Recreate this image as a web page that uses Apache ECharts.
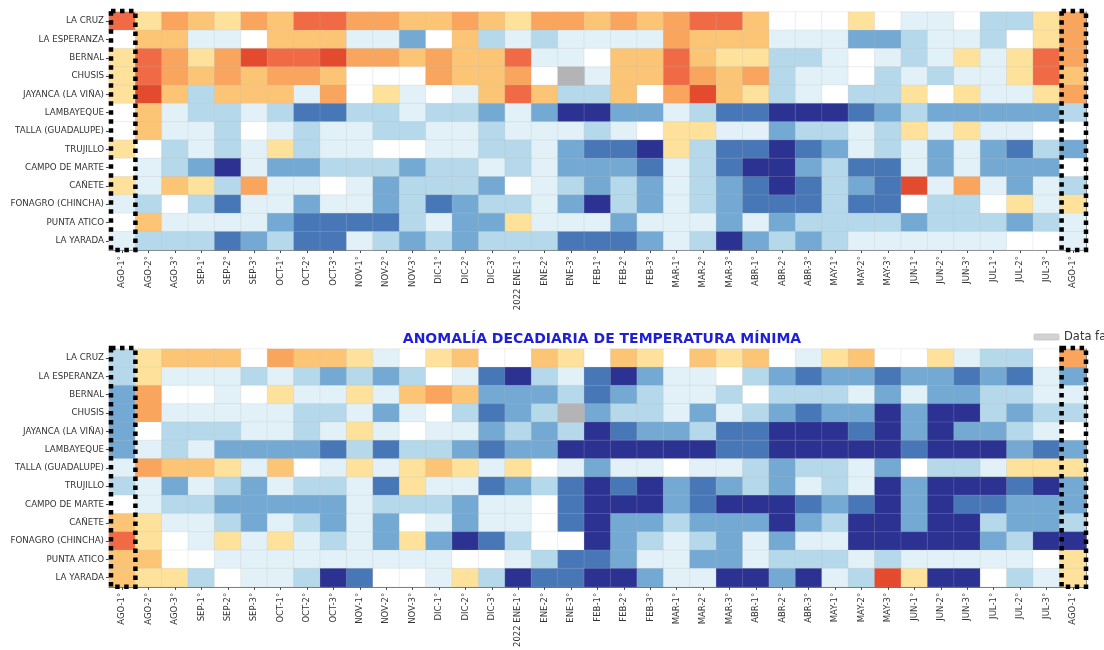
<!DOCTYPE html>
<html>
<head>
<meta charset="utf-8">
<script src="https://cdn.jsdelivr.net/npm/echarts@6/dist/echarts.min.js"></script>
<style>
  html, body { margin: 0; padding: 0; background: #fff; }
  #chart { width: 1104px; height: 650px; }
</style>
</head>
<body>
<div id="chart"></div>
<script>
// estaciones (de arriba hacia abajo)
const estaciones = ['LA CRUZ', 'LA ESPERANZA', 'BERNAL', 'CHUSIS', 'JAYANCA (LA VIÑA)', 'LAMBAYEQUE',
  'TALLA (GUADALUPE)', 'TRUJILLO', 'CAMPO DE MARTE', 'CAÑETE', 'FONAGRO (CHINCHA)', 'PUNTA ATICO', 'LA YARADA']

const decadas = ['AGO-1°', 'AGO-2°', 'AGO-3°', 'SEP-1°', 'SEP-2°', 'SEP-3°', 'OCT-1°', 'OCT-2°', 'OCT-3°',
  'NOV-1°', 'NOV-2°', 'NOV-3°', 'DIC-1°', 'DIC-2°', 'DIC-3°', '2022 ENE-1°', 'ENE-2°', 'ENE-3°',
  'FEB-1°', 'FEB-2°', 'FEB-3°', 'MAR-1°', 'MAR-2°', 'MAR-3°', 'ABR-1°', 'ABR-2°', 'ABR-3°',
  'MAY-1°', 'MAY-2°', 'MAY-3°', 'JUN-1°', 'JUN-2°', 'JUN-3°', 'JUL-1°', 'JUL-2°', 'JUL-3°', 'AGO-1°']

// clase de anomalia (-5 muy frio ... +5 muy calido), null = sin dato
const anomaliaSuperior = [
  [4, 1, 3, 2, 1, 3, 2, 4, 4, 3, 3, 2, 2, 3, 2, 1, 3, 3, 2, 3, 2, 3, 4, 4, 2, 0, 0, 0, 1, 0, -1, -1, 0, -2, -2, 1, 3],
  [0, 2, 2, -1, -1, 0, 2, 2, 2, -1, -1, -3, 0, 2, -2, -1, -2, -1, -1, -1, -1, 3, 2, 2, 2, -1, -1, -1, -3, -3, -2, -1, -1, -2, 0, 1, 3],
  [1, 4, 3, 1, 3, 5, 4, 4, 5, 3, 3, 2, 3, 2, 2, 4, -1, -1, 0, 2, 2, 4, 2, 1, 1, -2, -2, -1, 0, -1, -2, -1, 1, -1, 1, 4, 3],
  [1, 4, 3, 2, 3, 2, 3, 3, 2, 0, 0, 0, 3, 2, 2, 3, 0, null, -1, 2, 2, 4, 3, 2, 3, -2, -1, -1, 0, -2, -1, -2, -1, -1, 1, 4, 2],
  [1, 5, 2, -2, 2, 2, 2, -1, 3, 0, 1, -1, 0, -1, 2, 4, 2, -2, -2, 2, 0, 3, 5, 2, 1, -2, -1, 0, -2, -2, 1, 0, 1, -1, -1, 1, 3],
  [0, 2, -1, -2, -2, -1, -2, -4, -4, -2, -2, -1, -2, -2, -3, -1, -3, -5, -5, -3, -3, -1, -2, -4, -4, -5, -5, -5, -4, -3, -2, -3, -3, -3, -3, -3, -2],
  [0, 2, -1, -1, -2, 0, -1, -2, -1, -1, -2, -2, -1, -1, -2, -1, -1, -1, -2, -1, 0, 1, 1, -1, -1, -3, -2, -2, -1, -2, 1, -1, 1, -1, -1, 0, 0],
  [1, 0, -2, -1, -2, -1, 1, -2, -1, -1, 0, 0, -1, -1, -2, -2, -1, -3, -4, -4, -5, 1, -2, -4, -4, -5, -4, -3, -1, -2, -1, -3, -1, -3, -4, -2, -3],
  [0, -1, -2, -3, -5, -1, -3, -3, -2, -2, -2, -3, -2, -2, -1, -2, -1, -3, -3, -3, -4, -1, -2, -4, -5, -5, -3, -2, -4, -4, -1, -3, -1, -3, -3, -3, 0],
  [1, -1, 2, 1, -2, 3, -1, -1, 0, -1, -3, -2, -2, -2, -3, 0, -1, -2, -3, -2, -3, -1, -2, -3, -4, -5, -4, -2, -3, -4, 5, -1, 3, -1, -3, -1, -2],
  [-1, -2, 0, -2, -4, -1, -1, -3, -1, -1, -3, -2, -4, -3, -2, -2, -1, -3, -5, -2, -3, -1, -2, -3, -4, -4, -4, -2, -4, -4, 0, -2, -2, 0, 1, -1, 1],
  [0, 2, -1, -1, -1, -1, -3, -4, -4, -4, -4, -2, -1, -3, -3, 1, -1, -1, -1, -3, -1, -1, -1, -3, -1, -3, -2, -2, -2, -2, -3, -2, -2, -2, -3, -2, -1],
  [-1, -2, -2, -2, -4, -3, -2, -4, -4, -1, -2, -3, -2, -3, -2, -2, -2, -4, -4, -4, -3, -1, -2, -5, -3, -2, -3, -2, -1, -1, -1, -1, -1, -1, 0, 0, -1]
]

const anomaliaMinima = [
  [-2, 1, 2, 2, 2, 0, 3, 2, 2, 1, -1, 0, 1, 2, 0, 0, 2, 1, 0, 2, 1, 0, 2, 1, 2, 0, -1, 1, 2, 0, 0, 1, -1, -2, -2, 0, 3],
  [-2, 1, -1, -1, -1, -2, -1, -2, -3, -2, -3, -2, 0, -1, -4, -5, -2, -1, -4, -5, -3, -1, -1, 0, -2, -3, -4, -3, -3, -4, -3, -3, -4, -3, -4, -1, -3],
  [-3, 3, 0, 0, -1, 0, 1, -1, -1, 1, -1, 2, 3, 2, -3, -3, -3, -2, -4, -3, -2, -1, -1, -2, 0, -2, -2, -2, -1, -3, -1, -3, -3, -2, -2, -1, -1],
  [-3, 3, -1, -1, -1, -1, -1, -2, -2, -1, -3, -1, 0, -2, -4, -3, -2, null, -3, -2, -2, -1, -3, -1, -2, -3, -4, -3, -3, -5, -3, -5, -5, -2, -3, -2, -2],
  [-3, 0, -2, -2, -2, -1, -1, -2, -1, 1, -1, 0, -1, -1, -3, -2, -3, -2, -5, -4, -3, -3, -2, -4, -4, -5, -5, -5, -4, -5, -3, -5, -3, -3, -2, -1, 0],
  [-3, -1, -2, -1, -3, -3, -3, -3, -4, -2, -4, -2, -2, -3, -4, -3, -3, -5, -5, -5, -5, -5, -5, -4, -4, -5, -5, -5, -5, -5, -4, -5, -5, -5, -3, -4, -3],
  [-1, 3, 2, 2, 1, -1, 2, 0, -1, 1, -1, 1, 2, 1, -1, 1, 0, -1, -3, -1, -1, 0, -1, -1, -2, -3, -2, -2, -1, -3, 0, -2, -2, -1, 1, 1, 1],
  [-2, -1, -3, -1, -2, -3, -1, -2, -2, -1, -4, 1, -1, -1, -4, -3, -2, -4, -5, -4, -5, -3, -4, -3, -2, -3, -1, -2, -1, -5, -3, -5, -5, -5, -4, -5, -3],
  [0, -1, -2, -2, -3, -3, -3, -3, -3, -1, -2, -2, -2, -3, -1, -1, 0, -4, -5, -5, -5, -3, -4, -5, -5, -5, -4, -3, -4, -5, -3, -5, -4, -4, -3, -3, -3],
  [2, 1, -1, -1, -2, -3, -1, -2, -3, -1, -3, 0, -1, -3, -1, -1, 0, -4, -5, -3, -3, -2, -3, -3, -3, -5, -3, -2, -5, -5, -3, -5, -5, -2, -3, -3, -2],
  [4, 1, 0, -1, 1, -1, 1, -1, -2, -1, -3, 1, -3, -5, -4, -2, 0, 0, -5, -3, -2, -1, -2, -3, -1, -3, -1, -1, -5, -5, -5, -5, -5, -3, -2, -5, -5],
  [2, 2, 0, 0, -1, -1, -1, -1, -1, -1, -1, -1, -1, 0, 0, -1, -2, -4, -4, -3, -1, -1, -3, -3, -1, -2, -2, -2, -1, -2, -1, -1, -1, -1, -1, 0, 1],
  [2, 1, 1, -2, 0, -1, -1, -2, -5, -4, 0, 0, -1, 1, -2, -5, -4, -4, -5, -5, -3, -1, -1, -5, -5, -3, -5, -1, -2, 5, 1, -5, -5, 0, -2, -1, 1]
]

// columnas resaltadas con recuadro punteado
const columnasResaltadas = [0, 36]

const colores = {
  '5': '#e44a2e', '4': '#f06b45', '3': '#f9a55d', '2': '#fcc575', '1': '#fee29b',
  '0': '#ffffff',
  '-1': '#e1f1f7', '-2': '#b5d8ea', '-3': '#74a9d3', '-4': '#4877b8', '-5': '#2c3292'
}

const armarDatos = (filas) => {
  const ok = []
  const faltante = []
  filas.forEach((fila, r) => {
    fila.forEach((v, c) => {
      if (v === null) faltante.push([c, r, 0])
      else ok.push([c, r, v])
    })
  })
  return { ok, faltante }
}

const sup = armarDatos(anomaliaSuperior)
const min = armarDatos(anomaliaMinima)

const fuente = 'DejaVu Sans'
const grids = [
  { left: 109, top: 12, width: 977, height: 238 },
  { left: 109, top: 349, width: 977, height: 238 }
]

const xAxes = []
const yAxes = []
grids.forEach((g, i) => {
  xAxes.push({
    type: 'category', gridIndex: i, data: decadas, position: 'bottom',
    axisLine: { show: true, lineStyle: { color: '#444', width: 0.8 } },
    axisTick: { show: true, alignWithLabel: true, length: 3, lineStyle: { color: '#444' } },
    axisLabel: { rotate: 90, fontSize: 8.5, color: '#333', fontFamily: fuente, margin: 6, interval: 0 },
    splitLine: { show: false }
  })
  xAxes.push({
    type: 'category', gridIndex: i, data: decadas, position: 'top',
    axisLine: { show: true, lineStyle: { color: '#444', width: 0.8 } },
    axisTick: { show: true, inside: true, alignWithLabel: true, length: 3, lineStyle: { color: '#555' } },
    axisLabel: { show: false }
  })
  yAxes.push({
    type: 'category', gridIndex: i, data: estaciones, inverse: true,
    axisLine: { show: true, lineStyle: { color: '#444', width: 0.8 } },
    axisTick: { show: true, alignWithLabel: true, length: 3, lineStyle: { color: '#444' } },
    axisLabel: { fontSize: 8.7, color: '#333', fontFamily: fuente, margin: 5, interval: 0 }
  })
  yAxes.push({
    type: 'category', gridIndex: i, data: estaciones, inverse: true, position: 'right',
    axisLine: { show: true, lineStyle: { color: '#444', width: 0.8 } },
    axisTick: { show: false }, axisLabel: { show: false }
  })
})

// recuadro punteado sobre una columna completa
const recuadro = (params, api) => {
  const c = api.value(0)
  const p0 = api.coord([c, 0])
  const p1 = api.coord([c, estaciones.length - 1])
  const sz = api.size([1, 1])
  const y0 = Math.min(p0[1], p1[1]) - sz[1] / 2
  const h = Math.abs(p1[1] - p0[1]) + sz[1]
  return {
    type: 'rect',
    shape: { x: p0[0] - sz[0] / 2 + 2, y: y0 - 1, width: sz[0] - 2, height: h + 1 },
    style: { fill: 'none', stroke: '#000', lineWidth: 4.5, lineDash: [4.5, 4.5] }
  }
}

const celda = { borderColor: 'rgba(190,190,190,0.35)', borderWidth: 0.6 }
const celdaFaltante = { color: '#b4b4b6', borderColor: 'rgba(190,190,190,0.35)', borderWidth: 0.6 }

const myChart = echarts.init(document.getElementById('chart'))
myChart.setOption({
  animation: false,
  backgroundColor: '#fff',
  title: {
    text: 'ANOMALÍA DECADIARIA DE TEMPERATURA MÍNIMA',
    left: 597, top: 327, textAlign: 'center',
    textStyle: { color: '#1f1fd6', fontSize: 14, fontWeight: 'bold', fontFamily: fuente }
  },
  legend: {
    data: [{ name: 'Data faltante', itemStyle: { color: '#d2d2d2' } }],
    left: 1028, top: 326,
    itemWidth: 25, itemHeight: 6,
    textStyle: { fontSize: 11.5, color: '#333', fontFamily: fuente }
  },
  grid: grids,
  xAxis: xAxes,
  yAxis: yAxes,
  visualMap: {
    type: 'piecewise', show: false, seriesIndex: [0, 2], dimension: 2,
    pieces: Object.keys(colores).map(k => ({ value: Number(k), color: colores[k] }))
  },
  series: [
    { type: 'heatmap', name: 'superior', xAxisIndex: 0, yAxisIndex: 0, data: sup.ok, itemStyle: celda },
    { type: 'heatmap', name: 'Data faltante', xAxisIndex: 0, yAxisIndex: 0, data: sup.faltante, itemStyle: celdaFaltante },
    { type: 'heatmap', name: 'minima', xAxisIndex: 2, yAxisIndex: 2, data: min.ok, itemStyle: celda },
    { type: 'heatmap', name: 'Data faltante', xAxisIndex: 2, yAxisIndex: 2, data: min.faltante, itemStyle: celdaFaltante },
    { type: 'custom', xAxisIndex: 0, yAxisIndex: 0, data: columnasResaltadas.map(c => [c]),
      renderItem: recuadro, clip: false, z: 10, silent: true },
    { type: 'custom', xAxisIndex: 2, yAxisIndex: 2, data: columnasResaltadas.map(c => [c]),
      renderItem: recuadro, clip: false, z: 10, silent: true }
  ]
})
</script>
</body>
</html>
